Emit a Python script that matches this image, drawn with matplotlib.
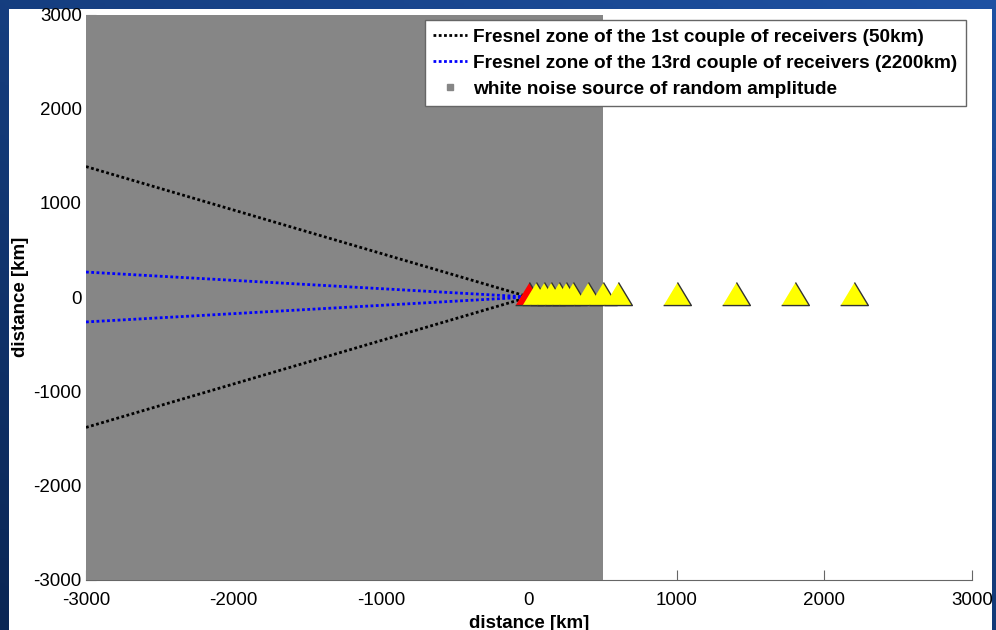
import numpy as np
import matplotlib.pyplot as plt
from matplotlib.patches import Rectangle

plt.rcParams['font.family'] = ['Liberation Sans', 'DejaVu Sans']
plt.rcParams['axes.unicode_minus'] = False

# station layout along the profile (km)
source_x = [0]
source_y = [0]
receiver_x = [50, 100, 150, 200, 250, 300, 400, 500, 600, 1000, 1400, 1800, 2200]
receiver_y = [0] * len(receiver_x)

# area filled with noise sources
noise_x = [-3000, 500]
noise_y = [-3000, 3000]

# Fresnel zone edges (upper half, mirrored below)
fresnel_x = [-3000, 0]
fresnel_1st = [1385, 0]
fresnel_13rd = [265, 0]

ticks = [-3000, -2000, -1000, 0, 1000, 2000, 3000]

fig = plt.figure(figsize=(9.96, 6.3), dpi=100)

# slide background: blue gradient with a white panel
bg = fig.add_axes([0, 0, 1, 1])
gx, gy = np.meshgrid(np.linspace(0, 1, 200), np.linspace(0, 1, 200))
g = 0.55 * gy + 0.45 * gx
c0 = np.array([0.04, 0.15, 0.33])
c1 = np.array([0.12, 0.32, 0.64])
img = c0 + (c1 - c0) * g[..., None]
bg.imshow(img, extent=[0, 1, 0, 1], origin='lower', aspect='auto')
bg.add_patch(Rectangle((9 / 996, 0), (992 - 9) / 996, 1 - 9 / 630,
                       facecolor='white', edgecolor='none'))
bg.set_xlim(0, 1)
bg.set_ylim(0, 1)
bg.axis('off')

ax = fig.add_axes([86 / 996, 1 - 579.5 / 630, (972 - 86) / 996, 565 / 630])
ax.set_facecolor('none')

ax.add_patch(Rectangle((noise_x[0], noise_y[0]), noise_x[1] - noise_x[0],
                       noise_y[1] - noise_y[0], facecolor='#868686',
                       edgecolor='none', zorder=3))

fx = np.array(fresnel_x)
f1 = np.array(fresnel_1st)
f13 = np.array(fresnel_13rd)
dots = (0, (1, 0.9))
ax.plot(fx, f1, ls=dots, color='black', lw=2.0, zorder=4,
        label='Fresnel zone of the 1st couple of receivers (50km)')
ax.plot(fx, -f1, ls=dots, color='black', lw=2.0, zorder=4)
ax.plot(fx, f13, ls=dots, color='blue', lw=2.0, zorder=4,
        label='Fresnel zone of the 13rd couple of receivers (2200km)')
ax.plot(fx, -f13, ls=dots, color='blue', lw=2.0, zorder=4)
ax.plot([], [], ls='none', marker='s', ms=5, color='#868686',
        label='white noise source of random amplitude')

# triangle marker, slightly raised like the receiver symbols
tri = [(-1, -0.58), (1, -0.58), (0, 1.08)]
ax.plot(source_x, source_y, ls='none', marker=tri, ms=21.6,
        mfc='red', mec='#333333', mew=1.0, zorder=5)
ax.plot(receiver_x, receiver_y, ls='none', marker=tri, ms=21.6,
        mfc='yellow', mec='#333333', mew=1.0, zorder=6)

ax.set_xlim(-3000, 3000)
ax.set_ylim(-3000, 3000)
ax.set_xticks(ticks)
ax.set_yticks(ticks)
for s in ['top', 'right', 'left']:
    ax.spines[s].set_visible(False)
ax.spines['bottom'].set_color('#666666')
ax.tick_params(axis='x', direction='in', length=7, color='#666666',
               labelsize=13.5, pad=9)
ax.tick_params(axis='y', direction='in', length=7, color='#666666',
               labelsize=13.5, pad=3)

ax.set_xlabel('distance [km]', fontsize=13.5, fontweight='bold', labelpad=4)
ax.set_ylabel('distance [km]', fontsize=13.5, fontweight='bold', labelpad=3)

leg = ax.legend(loc='upper right', bbox_to_anchor=(966 / 996, 1 - 20 / 630),
                bbox_transform=fig.transFigure, borderaxespad=0,
                prop={'weight': 'bold', 'size': 13.7}, handlelength=1.8,
                handletextpad=0.3, labelspacing=0.45, borderpad=0.45,
                fancybox=False, framealpha=1, edgecolor='#666666')
leg.get_frame().set_linewidth(1.0)
leg.set_zorder(10)

fig.savefig('out.png', dpi=100)
